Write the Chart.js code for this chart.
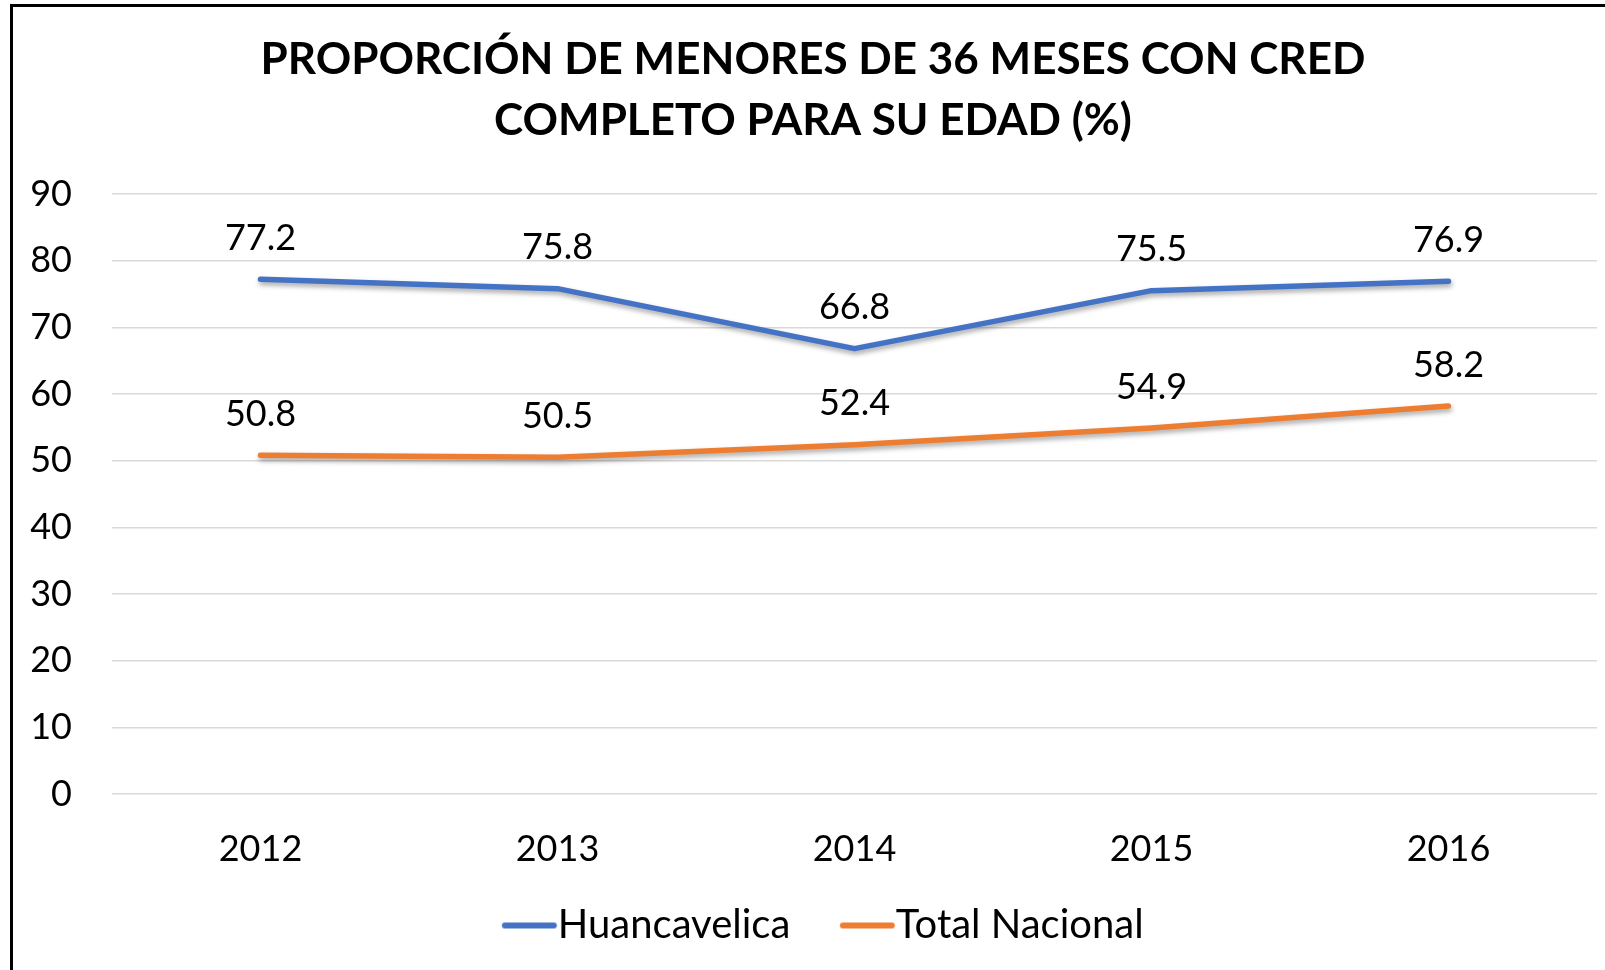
<!DOCTYPE html>
<html>
<head>
<meta charset="utf-8">
<script src="https://cdn.jsdelivr.net/npm/chart.js@4.4.1/dist/chart.umd.min.js"></script>
<style>
  html, body { margin: 0; padding: 0; background: #fff; overflow: hidden; }
  #wrap { position: relative; width: 1605px; height: 970px; }
  #frame { position: absolute; left: 10px; top: 4px; width: 2000px; height: 2000px;
           border-left: 3px solid #000; border-top: 3px solid #000; pointer-events: none; }
  canvas { position: absolute; left: 0; top: 0; }
</style>
</head>
<body>
<div id="wrap">
  <canvas id="c" width="1605" height="970"></canvas>
  <div id="frame"></div>
</div>
<script>
const titleLines = ['PROPORCIÓN DE MENORES DE 36 MESES CON CRED', 'COMPLETO PARA SU EDAD (%)'];
const years = ['2012', '2013', '2014', '2015', '2016'];
const huancavelica = [77.2, 75.8, 66.8, 75.5, 76.9];
const totalNacional = [50.8, 50.5, 52.4, 54.9, 58.2];
const seriesNames = ['Huancavelica', 'Total Nacional'];
const yTicks = [0, 10, 20, 30, 40, 50, 60, 70, 80, 90];

const BLUE = '#4472C4';
const ORANGE = '#ED7D31';
const FONT = 'Lato, "Open Sans", sans-serif';

function legendMarker(color) {
  const c = document.createElement('canvas');
  c.width = 100; c.height = 12;
  const x = c.getContext('2d');
  x.strokeStyle = color; x.lineWidth = 6; x.lineCap = 'round';
  x.beginPath(); x.moveTo(44.75, 6); x.lineTo(93.75, 6); x.stroke();
  return c;
}
const markers = [legendMarker(BLUE), legendMarker(ORANGE)];

const shadowPlugin = {
  id: 'lineShadow',
  beforeDatasetsDraw(chart) {
    const ctx = chart.ctx;
    ctx.save();
    ctx.shadowColor = 'rgba(0,0,0,0.35)';
    ctx.shadowBlur = 5;
    ctx.shadowOffsetX = 1;
    ctx.shadowOffsetY = 3;
  },
  afterDatasetsDraw(chart) {
    chart.ctx.restore();
  }
};

const valueLabels = {
  id: 'valueLabels',
  afterDatasetsDraw(chart) {
    const ctx = chart.ctx;
    ctx.save();
    ctx.font = '36px ' + FONT;
    ctx.fillStyle = '#000';
    ctx.textAlign = 'center';
    ctx.textBaseline = 'middle';
    chart.data.datasets.forEach((ds, di) => {
      const meta = chart.getDatasetMeta(di);
      meta.data.forEach((pt, i) => {
        ctx.fillText(ds.data[i].toFixed(1), pt.x, pt.y - 41);
      });
    });
    ctx.restore();
  }
};

new Chart(document.getElementById('c'), {
  type: 'line',
  data: {
    labels: years,
    datasets: [
      { label: seriesNames[0], data: huancavelica, borderColor: BLUE, backgroundColor: BLUE,
        borderWidth: 5.5, pointRadius: 0, pointHoverRadius: 0, tension: 0,
        borderCapStyle: 'round', borderJoinStyle: 'round' },
      { label: seriesNames[1], data: totalNacional, borderColor: ORANGE, backgroundColor: ORANGE,
        borderWidth: 5.5, pointRadius: 0, pointHoverRadius: 0, tension: 0,
        borderCapStyle: 'round', borderJoinStyle: 'round' }
    ]
  },
  options: {
    responsive: false,
    animation: false,
    devicePixelRatio: 1,
    layout: { padding: { left: 29, right: 8, top: 0, bottom: 14.5 } },
    plugins: {
      tooltip: { enabled: false },
      title: {
        display: true,
        text: titleLines,
        color: '#000',
        font: { family: FONT, size: 44, weight: 'bold', lineHeight: 61 / 44 },
        padding: { top: 29.5, bottom: 42.5 }
      },
      legend: {
        display: true,
        position: 'bottom',
        labels: {
          usePointStyle: true,
          pointStyleWidth: 55.5,
          boxHeight: 12,
          padding: 30,
          color: '#000',
          font: { family: FONT, size: 40 },
          generateLabels(chart) {
            const items = Chart.defaults.plugins.legend.labels.generateLabels(chart);
            items.forEach((it, i) => { it.pointStyle = markers[i]; });
            return items;
          }
        }
      }
    },
    scales: {
      x: {
        offset: true,
        grid: { display: false, drawTicks: false },
        border: { display: false },
        ticks: { color: '#000', font: { family: FONT, size: 36 }, padding: 34 },
        afterFit(s) { s.height = 81.5; }
      },
      y: {
        min: 0,
        max: 90,
        afterBuildTicks(s) { s.ticks = yTicks.map(v => ({ value: v })); },
        grid: { color: '#d9d9d9', lineWidth: 1.5, drawTicks: false },
        border: { display: false },
        ticks: { color: '#000', font: { family: FONT, size: 36 }, padding: 40 },
        afterFit(s) { s.width = 83; }
      }
    }
  },
  plugins: [shadowPlugin, valueLabels]
});
</script>
</body>
</html>
